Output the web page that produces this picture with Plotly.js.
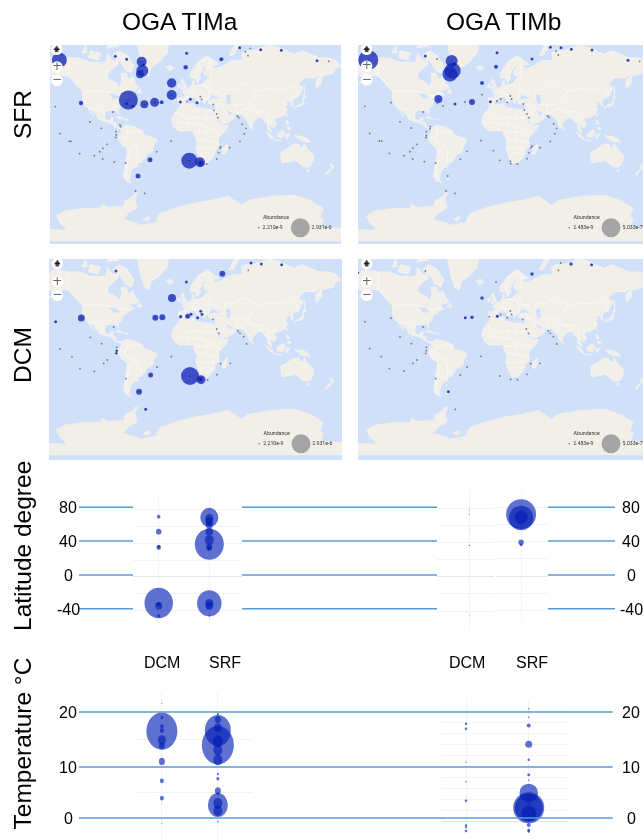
<!DOCTYPE html>
<html><head><meta charset="utf-8">
<script src="https://cdn.plot.ly/plotly-3.0.1.min.js"></script>
<style>html,body{margin:0;padding:0;background:#fff;overflow:hidden}#gd{width:643px;height:839px;filter:blur(0.4px)}</style>
</head><body><div id="gd"></div>
<script>
// ---------- reading of the picture: map land (lon, lat) ----------
const northAmerica=[[-168,66],[-162,70],[-156,71],[-140,70],[-128,70],[-115,68],[-108,68],[-96,68],[-94,72],[-88,69],[-82,69],[-81,67],[-87,65],[-93,62],[-94,59],[-88,57],[-82,55],[-80,51.5],[-79,54],[-77,57],[-78,62],[-72,62],[-68,58],[-64,60],[-60,55],[-56,52],[-60,50],[-66,50],[-70,47],[-65,49],[-64,47],[-61,46],[-66,44],[-70,43.5],[-70,41.5],[-74,40.5],[-76,37],[-76,35],[-81,31.5],[-80,27],[-80.5,25.2],[-82,27],[-83,29.5],[-89,30],[-94,29.5],[-97,27.5],[-97.5,22],[-95,18.5],[-91,18.5],[-90,21],[-87,21.5],[-88,16],[-84,15.5],[-83.5,11],[-81,9],[-78,9.5],[-77,8],[-80,7.5],[-85,10],[-88,13],[-94,16],[-100,17],[-105,20],[-106,23],[-110,27.5],[-113,31],[-115,31],[-110,23],[-112,25],[-115,29],[-117,32.5],[-120.5,34.5],[-124,40],[-124,48],[-128,51],[-133,55],[-140,60],[-148,60.5],[-152,59],[-158,56.5],[-165,54.5],[-158,58.5],[-165,61],[-165,64],[-168,66]];
const greenland=[[-73,78],[-60,82],[-30,83.5],[-18,80],[-22,72],[-32,68],[-42,65],[-44,60],[-50,62],[-54,68],[-58,75],[-73,78]];
const southAmerica=[[-78,8],[-72,12],[-62,10.5],[-52,5],[-50,0],[-44,-2.5],[-35,-5.5],[-35,-9],[-39,-14],[-39,-18],[-41,-22],[-48,-26],[-49,-29],[-54,-34.5],[-58,-34.5],[-57,-38],[-62,-39],[-65,-42],[-66,-46],[-68,-50],[-65.5,-52.5],[-71,-51.5],[-75,-47.5],[-74,-42],[-72,-30],[-70,-18],[-76,-14],[-81,-6],[-80,-2],[-80,1],[-77,4],[-78,8]];
const africa=[[-17,15],[-17,21],[-13,27.5],[-9,32],[-6,35.8],[2,36.8],[10,37.3],[11,33.5],[20,32],[25,31.5],[32,31],[34,28],[37,21],[39,15.5],[43,11.5],[51,12],[48,5],[40,-3],[39,-8],[40.5,-15],[35,-20],[35,-24],[32,-29],[27,-34],[20,-34.8],[18,-33],[15,-27],[12,-18],[13.5,-10],[12,-5],[9,0],[9.5,4],[5,5],[-4,5],[-8,4.5],[-13,8.5],[-17,15]];
const eurasia=[[-9,37],[-9.5,43],[-2,43.5],[-1,46],[-4.5,48.5],[2,51],[8,54],[8,57],[10.5,57],[10,54],[14,54],[20,54.5],[24,58],[30,60],[23,60],[21,63],[25,65.5],[22,65.8],[17,61],[18,59],[14,55.5],[11,59],[5.5,59],[5,62],[14,68],[25,71],[40,67],[33,66.5],[35,64.5],[44,66],[54,68.5],[68,69],[67,72],[72,73],[80,73],[100,75],[113,74],[130,71.5],[140,73],[160,70],[170,70],[180,69],[186,66],[180,65],[177,62],[163,60],[163,55.5],[156.5,51],[156,57],[163,62],[155,59],[142,59],[135,54.5],[141,52],[135,43.5],[130,42.5],[127.5,39.5],[129,35.5],[126.5,34.5],[125,39.5],[121,39],[118,38.5],[122,37],[119.5,34],[122,30],[119,25],[114,22],[109,21],[106,19],[109,13],[105,9],[100,13.5],[103.5,2],[101,3],[98,8],[98,15],[94,16],[92,21],[87,21.5],[80,15],[80,11],[77.5,8],[73,19],[70,21],[67,25],[57,25.5],[56,27],[50,30],[48,29.5],[51,25],[54,24],[56,26],[60,22],[52,16],[43,12.8],[39,21],[35,28],[34.5,31.5],[36,36.5],[30,36.5],[27,37],[26.5,40],[29,41],[35,42],[41,41],[38,44],[33,45],[31,46],[28,42],[26,40.5],[23,40],[23,36.5],[19.5,41],[13,45.5],[18,40],[16,38],[12,42],[9,44],[3,43],[0,39.5],[-2,36.8],[-5.5,36],[-9,37]];
const australia=[[114,-22],[122,-18],[126,-14],[130,-12],[136,-12],[136,-15],[140,-17.5],[142,-11],[146,-19],[153,-25],[153,-31],[150,-37],[146,-39],[140,-38],[136,-35],[131,-31.5],[124,-33],[115,-34.5],[114,-27],[114,-22]];
const islands=[
 [[-80,73],[-70,71],[-62,66],[-66,62],[-73,64],[-78,68],[-88,71],[-80,73]],
 [[-117,70],[-105,69],[-102,72],[-115,73],[-117,70]],
 [[-125,72],[-118,72],[-120,75],[-125,72]],
 [[-95,74],[-80,74.5],[-90,76.5],[-95,74]],
 [[-110,75],[-100,75],[-105,77],[-115,77],[-110,75]],
 [[-59,48],[-53,47],[-55,51],[-59,48]],
 [[-24,65.5],[-18,66.5],[-14,65],[-19,63.5],[-24,65.5]],
 [[-85,22],[-80,23],[-74,20],[-78,20],[-85,22]],
 [[-74,19],[-68,18.5],[-70,20],[-74,19]],
 [[49.5,-12],[50.5,-16],[47,-25],[44,-24],[44,-18],[49.5,-12]],
 [[-5.5,50],[1.5,51.5],[0,53.5],[-2,56],[-3,58.5],[-6,57],[-3,54],[-5,52],[-5.5,50]],
 [[-10,52],[-6,52],[-6,55],[-10,54],[-10,52]],
 [[52,71],[57,71],[68,76.5],[60,76],[52,71]],
 [[142,54],[143,47],[142,46],[142,54]],
 [[130,31.5],[132,34],[136,34],[141,36],[142,40],[141,41.5],[139,38],[133,35.5],[130,33.5],[130,31.5]],
 [[140,42],[145,43.5],[142,45.5],[140,42]],
 [[120,25],[122,25],[121,22],[120,25]],
 [[120,18],[122,18],[124,13],[121,13],[120,18]],
 [[122,10],[126,9],[126,6],[122,7],[122,10]],
 [[109,1],[117,7],[119,1],[116,-4],[110,-3],[109,1]],
 [[95,5.5],[104,-2],[106,-6],[101,-4],[95,5.5]],
 [[105,-6.5],[114,-7.5],[114,-8.5],[106,-7.5],[105,-6.5]],
 [[120,1],[125,1],[122,-5],[120,-5],[120,1]],
 [[131,-1],[141,-2.5],[147,-6],[150,-10],[143,-9],[138,-8],[133,-4],[131,-1]],
 [[145,-41],[148,-41],[147,-43.5],[146,-43.5],[145,-41]],
 [[173,-35],[178,-38],[175,-41.5],[174,-39],[173,-35]],
 [[172,-41],[174,-42],[169,-46.5],[167,-45.5],[172,-41]],
 [[80,9.5],[82,7],[80.5,6],[80,9.5]],
 [[-56,-49.5],[-58,-50.5],[-60,-50],[-56,-49.5]]
];
const inlandWater=[
 [[47,45],[53,46],[54,37],[50,37],[47,45]],
 [[-92,47],[-84,47],[-80,43],[-87,42],[-92,47]]
];
const borders=[
 [[-141,70],[-141,60],[-130,55]],[[-123,49],[-95,49],[-83,46],[-75,45],[-68,47]],[[-117,32.5],[-106,31.5],[-97,26]],
 [[-52,3],[-60,5],[-70,1],[-74,-7],[-70,-11],[-60,-14],[-58,-20],[-54,-26],[-54,-33]],[[-70,-18],[-68,-23],[-71,-40],[-72,-50]],
 [[-70,1],[-72,12]],[[-80,-3],[-70,-3]],[[-60,-14],[-68,-23]],[[-58,-20],[-58,-34]],
 [[-13,27],[-8,27],[3,19],[12,23],[25,20],[25,31]],[[25,20],[36,22]],[[-12,15],[3,15],[14,13],[24,10],[35,5],[41,-2]],
 [[12,-5],[30,-8],[40,-11]],[[12,-17],[25,-18],[35,-16]],[[17,-29],[20,-22],[33,-25]],[[10,3],[17,3],[30,4]],[[3,6],[3,15]],[[14,13],[15,23]],[[24,10],[25,-8]],
 [[28,56],[30,50],[40,48],[48,42],[47,50],[60,51],[70,55],[87,49],[100,51],[118,50],[126,53],[135,48],[131,43]],
 [[75,37],[80,30],[97,28],[100,22],[108,22]],[[61,36],[70,37],[75,37],[87,49]],[[62,25],[61,36],[53,37]],[[44,37],[46,30],[48,29]],
 [[2,51],[7,47],[14,46],[19,42],[27,42],[29,48],[23,54],[14,54],[7,47]],[[-2,43],[3,42.5]],[[12,59],[16,68],[29,70]],[[30,60],[29,70]],
 [[62,25],[74,33],[80,28],[88,27],[92,24]],[[36,36.5],[44,37]],[[100,22],[98,15]]
];
// Antarctica outline, in that map's own picture units
const antarcticaOutline=[[100,723],[100,686],[150,688],[200,690],[180,670],[168,648],[195,632],[250,625],[300,625],[305,612],[325,622],[370,618],[375,602],[400,588],[405,578],[415,578],[405,595],[412,625],[385,640],[370,658],[410,668],[420,675],[470,665],[470,655],[480,640],[530,622],[585,608],[635,600],[685,588],[725,615],[745,600],[815,588],[885,585],[935,602],[970,625],[960,650],[970,655],[965,680],[1023,685],[1100,685],[1100,723]];
const antarcticaIsland=[[430,658],[445,648],[452,655],[440,665]];

// ---------- stations: [mapX, mapY, diameter] / [mapX, mapY] ----------
const sfrABubbles=[[178,180,15],[346,169,3],[380,178,3],[425,185,10],[427,212,12],[420,223,8],[430,194,3],[385,300,19],[380,311,3],[399,318,3],[433,313,8],[464,307,9],[485,307,4],[515,249,9.5],[515,285,10],[557,202,4.5],[560,160,3],[664,178,4],[719,143,3],[782,149,3],[844,151,3],[951,182,3],[243,309,4.5],[541,306,3],[571,298,3],[591,308,3],[568,482,16],[600,487,10],[602,490,6],[450,479,5],[414,528,5]];
const sfrAGrey=[[166,320],[339,336],[270,366],[304,385],[362,380],[360,375],[348,395],[349,405],[347,412],[180,401],[208,424],[213,424],[321,433],[309,445],[299,455],[283,467],[239,461],[308,477],[343,486],[377,489],[470,455],[513,423],[561,304],[601,290],[605,298],[640,313],[642,331],[650,342],[654,353],[712,348],[716,353],[727,373],[738,385],[733,402],[720,424],[689,443],[662,440],[660,444],[656,458],[650,477],[620,492],[736,155],[751,145],[744,167],[986,184],[407,573],[434,580]];
const sfrBBubbles=[[55,180,20],[226,168,3],[305,183,12],[313,192,4],[308,212,16],[300,222,15],[265,297,8],[315,312,3],[366,306,6],[396,249,4],[438,200,4],[441,158,3],[546,177,3],[601,142,3],[633,143,3],[664,148,3],[726,150,3],[834,181,3],[421,305,3]];
const sfrBGrey=[[261,177],[45,319],[123,308],[219,336],[150,365],[184,384],[241,380],[240,386],[229,395],[229,407],[228,413],[59,400],[88,423],[95,423],[201,433],[189,444],[180,455],[162,467],[118,460],[188,477],[223,485],[257,489],[351,454],[293,528],[331,478],[393,422],[430,452],[449,481],[481,484],[482,491],[502,492],[531,476],[537,458],[543,443],[546,438],[570,443],[601,424],[614,401],[620,385],[611,372],[597,352],[593,348],[537,353],[531,342],[523,330],[520,312],[485,297],[481,288],[472,307],[452,297],[441,303],[396,284],[345,306],[279,318],[262,310],[618,153],[625,165],[869,184],[288,573],[315,580]];
const dcmABubbles=[[348,63,3],[167,215,3],[244,204,7],[466,203,6],[487,202,6],[516,144,8],[559,96,3],[667,71,6],[753,39,3],[784,42,3],[845,44,3],[542,200,3.5],[563,199,5],[573,193,3],[602,184,3],[606,193,3],[593,203,3],[350,302,2.5],[349,310,2.5],[570,378,18],[603,389,9],[600,388,5],[452,375,5],[417,425,6],[437,478,3]];
const dcmAGrey=[[745,61],[639,208],[650,237],[657,250],[714,243],[720,250],[731,260],[740,282],[341,231],[271,262],[305,281],[350,292],[180,297],[216,320],[322,330],[311,340],[240,356],[283,364],[471,351],[514,320],[378,386],[662,341],[691,340],[651,374],[623,390]];
const dcmBBubbles=[[663,42,3.5],[725,44,3],[546,72,3.5],[396,144,3.5],[346,203,3],[366,202,3.5],[442,199,3],[295,425,3],[24,68,2]];
const dcmBGrey=[[226,63],[632,39],[625,61],[438,96],[45,215],[123,204],[219,231],[150,261],[184,281],[229,292],[229,302],[227,310],[201,330],[189,340],[94,320],[59,296],[118,356],[162,363],[257,386],[351,351],[331,375],[393,319],[449,378],[482,388],[502,389],[531,373],[542,341],[570,340],[620,282],[610,260],[601,250],[595,243],[536,250],[529,237],[518,208],[485,193],[481,183],[472,203],[452,194],[418,200],[316,478]];
const legendTexts={sfrA:["2.210e-9","2.931e-6"],sfrB:["2.483e-9","5.033e-7"],dcmA:["2.210e-9","2.931e-6"],dcmB:["2.483e-9","5.033e-7"]};

// ---------- bubbles: [value, diameter] ----------
const siteLabels=["DCM","SRF"];
const latA_DCM=[[-31.6,28.5],[-35,7],[-33,4],[-47,3],[35,4.5],[36,3],[54,5.5],[72,3.5]];
const latA_SRF=[[71,18],[39,29],[-32,24.5],[70,8],[66,8],[62,7],[54,7.5],[44,9],[36,6],[34,5],[-32,8],[-35,7.5],[-47,1.5]];
const latB_DCM=[[78,1],[73,1],[55,.7],[36.5,1.5],[-45,.7]];
const latB_SRF=[[72,30],[67.5,24.5],[68.6,13],[39.5,5.5],[36.4,3]];
const tempA_DCM=[[16.7,31],[22,1],[19.3,2.5],[17.6,3.5],[16.8,4],[15,8],[13.9,6],[10.9,6],[7.2,4],[3.9,4],[-.9,1]];
const tempA_SRF=[[16.8,26],[14,32],[2.6,20],[19.9,2],[18.9,6],[17.4,7],[14.7,10],[13.1,9],[11.2,9],[8.5,2],[7.6,3],[5.3,6],[4.8,2],[2.9,9],[1.5,9],[-.6,1.5]];
const tempB_DCM=[[17.7,2.5],[16.8,2.5],[10.8,1.5],[7.2,1.5],[3.8,2.5],[-.7,2.5],[-1,2],[-1.7,2.5]];
const tempB_SRF=[[20.4,1.5],[18.9,1.5],[17.4,4],[14,7],[11.2,2.5],[8.5,3],[7.5,1.5],[5.2,18.5],[2.5,31],[2.5,28],[1.5,15],[3.2,2],[.4,2],[-.6,4],[-1.5,3],[-1.8,2.5]];
const latTicks=[80,40,0,-40];
const tempTicks=[20,10,0];

// ---------- helpers ----------
const W=643,H=839;
const dx=(a,b)=>[a/W,b/W], dy=(t,b)=>[1-b/H,1-t/H];
const px=x=>x/W, py=y=>1-y/H;
const OCEAN='#d1e0f9',LAND='#f2efe9',BLUE='rgb(0,28,180)',GRID='#f3f3f3';
const merc=l=>Math.log(Math.tan(Math.PI/4+l*Math.PI/360));
const mapX=(lon,off)=>557.5+2.5*lon+off, mapY=(lat,off)=>404-132.8*merc(lat)+off;
function polyXY(polys,ox,oy){const X=[],Y=[];polys.forEach(p=>{p.forEach(q=>{X.push(mapX(q[0],ox));Y.push(mapY(q[1],oy));});X.push(null);Y.push(null);});return{X,Y};}
function rawXY(polys,ox,oy){const X=[],Y=[];polys.forEach(p=>{p.forEach(q=>{X.push(q[0]+ox);Y.push(q[1]+oy);});X.push(p[0][0]+ox);Y.push(p[0][1]+oy);X.push(null);Y.push(null);});return{X,Y};}
const traces=[];const layout={width:W,height:H,margin:{l:0,r:0,t:0,b:0},paper_bgcolor:'#fff',plot_bgcolor:'rgba(0,0,0,0)',showlegend:false,shapes:[],annotations:[],font:{family:'Liberation Sans, Arial, sans-serif',color:'#000'}};
const hide={showgrid:false,zeroline:false,showticklabels:false,ticks:'',showline:false};

const maps=[
 {n:'',dom:[50,341,45,244],xr:[150,1023],yr:[135,732],ox:0,oy:0,b:sfrABubbles,g:sfrAGrey,lt:legendTexts.sfrA,ctl:[[170,148],[171,201],[171,241]],lg:[828,652,776,683,901,818,965]},
 {n:'2',dom:[358,643,45,244],xr:[24,879],yr:[135,732],ox:-120,oy:0,b:sfrBBubbles,g:sfrBGrey,lt:legendTexts.sfrB,ctl:[[50,148],[50,199],[50,240]],lg:[710,652,658,683,783,700,848]},
 {n:'3',dom:[49,342,259,460],xr:[147,1026],yr:[27,630],ox:0,oy:-108,b:dcmABubbles,g:dcmAGrey,lt:legendTexts.dcmA,ctl:[[172,41],[172,95],[172,136]],lg:[830,550,778,581,903,820,967]},
 {n:'4',dom:[358,643,259,460],xr:[24,879],yr:[27,630],ox:-120,oy:-108,b:dcmBBubbles,g:dcmBGrey,lt:legendTexts.dcmB,ctl:[[50,41],[50,95],[50,136]],lg:[710,550,658,581,783,700,848]}
];
const landPolys=[northAmerica,greenland,southAmerica,africa,eurasia,australia,...islands];
maps.forEach(m=>{
 const xa='x'+m.n, ya='y'+m.n;
 layout['xaxis'+m.n]={...hide,domain:dx(m.dom[0],m.dom[1]),range:m.xr,anchor:ya,fixedrange:true};
 layout['yaxis'+m.n]={...hide,domain:dy(m.dom[2],m.dom[3]),range:[m.yr[1],m.yr[0]],anchor:xa,fixedrange:true};
 layout.shapes.push({type:'rect',xref:'paper',yref:'paper',x0:px(m.dom[0]),x1:px(m.dom[1]),y0:py(m.dom[3]),y1:py(m.dom[2]),fillcolor:OCEAN,line:{width:0},layer:'below'});
 const land=polyXY(landPolys,m.ox,m.oy), water=polyXY(inlandWater,m.ox,m.oy), bord=polyXY(borders,m.ox,m.oy), ant=rawXY([antarcticaOutline,antarcticaIsland],m.ox,m.oy);
 traces.push({x:land.X,y:land.Y,xaxis:xa,yaxis:ya,mode:'lines',fill:'toself',fillcolor:LAND,line:{color:'#ffffff',width:.3},hoverinfo:'skip'});
 traces.push({x:ant.X,y:ant.Y,xaxis:xa,yaxis:ya,mode:'lines',fill:'toself',fillcolor:LAND,line:{color:LAND,width:.3},hoverinfo:'skip'});
 traces.push({x:water.X,y:water.Y,xaxis:xa,yaxis:ya,mode:'lines',fill:'toself',fillcolor:OCEAN,line:{color:OCEAN,width:.3},hoverinfo:'skip'});
 traces.push({x:bord.X,y:bord.Y,xaxis:xa,yaxis:ya,mode:'lines',line:{color:'#ffffff',width:.5},hoverinfo:'skip'});
 traces.push({x:m.b.map(p=>p[0]),y:m.b.map(p=>p[1]),xaxis:xa,yaxis:ya,mode:'markers',marker:{color:'rgb(18,38,185)',opacity:.78,size:m.b.map(p=>p[2]),line:{width:0}}});
 traces.push({x:m.b.map(p=>p[0]),y:m.b.map(p=>p[1]),xaxis:xa,yaxis:ya,mode:'markers',marker:{color:'#101040',opacity:.7,size:1.1,line:{width:0}}});
 traces.push({x:m.g.map(p=>p[0]),y:m.g.map(p=>p[1]),xaxis:xa,yaxis:ya,mode:'markers',marker:{color:'#6d6d78',opacity:.9,size:1.8,line:{width:0}}});
 // controls: white discs, house glyph built from two markers, plus / minus as text
 traces.push({x:m.ctl.map(p=>p[0]),y:m.ctl.map(p=>p[1]),xaxis:xa,yaxis:ya,mode:'markers+text',text:['','+','−'],textposition:'middle center',textfont:{size:12,color:'#666',family:'DejaVu Sans'},marker:{color:'#fff',size:11.5,line:{width:0}},cliponaxis:false});
 const hc=m.ctl[0];
 traces.push({x:[hc[0],hc[0]],y:[hc[1]-2.5,hc[1]+3],xaxis:xa,yaxis:ya,mode:'markers',cliponaxis:false,marker:{color:'#000',size:[6,3.6],symbol:['triangle-up','square'],line:{width:0}}});
 // legend
 const L=m.lg;
 traces.push({x:[L[4]],y:[L[3]],xaxis:xa,yaxis:ya,mode:'markers',marker:{color:'rgb(165,165,165)',size:19,line:{width:0}}});
 traces.push({x:[L[2]],y:[L[3]],xaxis:xa,yaxis:ya,mode:'markers',marker:{color:'rgb(150,150,150)',size:1.8,line:{width:0}}});
 traces.push({x:[L[0],L[5],L[6]],y:[L[1],L[3],L[3]],xaxis:xa,yaxis:ya,mode:'text',text:['Abundance',m.lt[0],m.lt[1]],textposition:'middle center',textfont:{size:5.2,color:'#333',family:'Roboto, Liberation Sans'},cliponaxis:false});
});

// bubble panels
const panels=[
 {n:'5',dom:[133,242,493.3,626.7],xr:[-.508,1.646],yr:[-60,100],dt:20,t0:0,tv:[0,1],data:[latA_DCM,latA_SRF],idx:[0,1],zero:true},
 {n:'6',dom:[437,494,491,628.3],xr:[-.64,.49],yr:[-60,100],dt:20,t0:0,tv:[0],data:[latB_DCM],idx:[0],zero:true},
 {n:'7',dom:[495.7,548,490,622.3],xr:[-.5,.53],yr:[-53.5,100],dt:20,t0:0,tv:[1],data:[latB_SRF],idx:[1],zero:true,shift:1},
 {n:'8',dom:[135,252,692.3,839],xr:[-.48,1.61],yr:[-3.9,24.1],dt:10,t0:5,tv:[0,1],data:[tempA_DCM,tempA_SRF],idx:[0,1],zero:false},
 {n:'9',dom:[442,567,700,832.7],xr:[-.383,1.61],yr:[-2,22],dt:2,t0:0,tv:[0,1],data:[tempB_DCM,tempB_SRF],idx:[0,1],zero:true}
];
panels.forEach(p=>{
 const xa='x'+p.n,ya='y'+p.n;
 let xr=p.xr; if(p.shift) xr=[xr[0]+1,xr[1]+1];
 layout['xaxis'+p.n]={domain:dx(p.dom[0],p.dom[1]),range:xr,anchor:ya,fixedrange:true,showticklabels:false,ticks:'',zeroline:false,showline:false,showgrid:true,gridcolor:GRID,gridwidth:1,tickvals:p.tv};
 layout['yaxis'+p.n]={domain:dy(p.dom[2],p.dom[3]),range:p.yr,anchor:xa,fixedrange:true,showticklabels:false,ticks:'',showline:false,showgrid:true,gridcolor:GRID,gridwidth:1,dtick:p.dt,tick0:p.t0,zeroline:p.zero,zerolinecolor:'#e6e6e6',zerolinewidth:1};
 p.data.forEach((arr,i)=>{
  traces.push({x:arr.map(()=>p.idx[i]),y:arr.map(a=>a[0]),xaxis:xa,yaxis:ya,mode:'markers',name:siteLabels[p.idx[i]],cliponaxis:false,marker:{color:BLUE,opacity:.63,size:arr.map(a=>a[1]),line:{width:0}}});
 });
});
// faint leftovers above two panels (clipped source charts)
const stripA={x:[-.28,.22,.34,.74,1.05],y:[112,112,112,112,112],c:['#b9c0e8','#2a40c8','#b9c0e8','#c8cbe8','#c8cbe8']};
traces.push({x:stripA.x,y:stripA.y,xaxis:'x5',yaxis:'y5',mode:'markers',cliponaxis:false,marker:{color:stripA.c,size:1.6,line:{width:0}}});
traces.push({x:[.6,1.18],y:[23.9,23.9],xaxis:'x9',yaxis:'y9',mode:'markers',cliponaxis:false,marker:{color:'#b9c0e8',size:1.5,line:{width:0}}});

// reference lines (hand placed over the source panels)
const LINE='#5b9bd5', hl=(x0,x1,y,w)=>layout.shapes.push({type:'line',xref:'paper',yref:'paper',x0:px(x0),x1:px(x1),y0:py(y),y1:py(y),line:{color:LINE,width:w||1.5},layer:'above'});
const latLineY=[507.3,541,575,608.7], tempLineY=[712,767,818];
latLineY.forEach(y=>{hl(79,133,y);hl(242,437,y);hl(548,615,y);});
tempLineY.forEach(y=>hl(79,612.7,y));

const ann=(text,x,y,size,angle)=>layout.annotations.push({text:String(text),xref:'paper',yref:'paper',x:px(x),y:py(y),xanchor:'center',yanchor:'middle',showarrow:false,textangle:angle||0,font:{size:size,color:'#000',family:'Liberation Sans, Arial, sans-serif'}});
latTicks.forEach((t,i)=>{ann(t,68,[507.5,541,575,609.5][i],16);ann(t,631,[507.5,541,575,609.5][i],16);});
tempTicks.forEach((t,i)=>{ann(t,68,[712,767,818][i],16);ann(t,631,[712,767,818][i],16);});
ann('OGA TIMa',180,22,24.5);ann('OGA TIMb',503,22,24.5);
ann('SFR',22,115,24.5,-90);ann('DCM',22,355,24.5,-90);
ann('Latitude degree',22,546,24.5,-90);ann('Temperature °C',22,743.5,24.5,-90);
[[161.7,'DCM'],[225,'SRF'],[467,'DCM'],[531.5,'SRF']].forEach(a=>ann(a[1],a[0],662,16));

Plotly.newPlot('gd',traces,layout,{displayModeBar:false,staticPlot:true}).then(gd=>{
 // the source charts are slightly stretched vertically
 const st={x5y5:1.07,x8y8:1.2};
 Object.keys(st).forEach(k=>{
  gd.querySelectorAll('.subplot.'+k+' .scatterlayer .points path').forEach(p=>{
   const t=p.getAttribute('transform'); if(t) p.setAttribute('transform',t+' scale(1,'+st[k]+')');
  });
 });
});
</script></body></html>
